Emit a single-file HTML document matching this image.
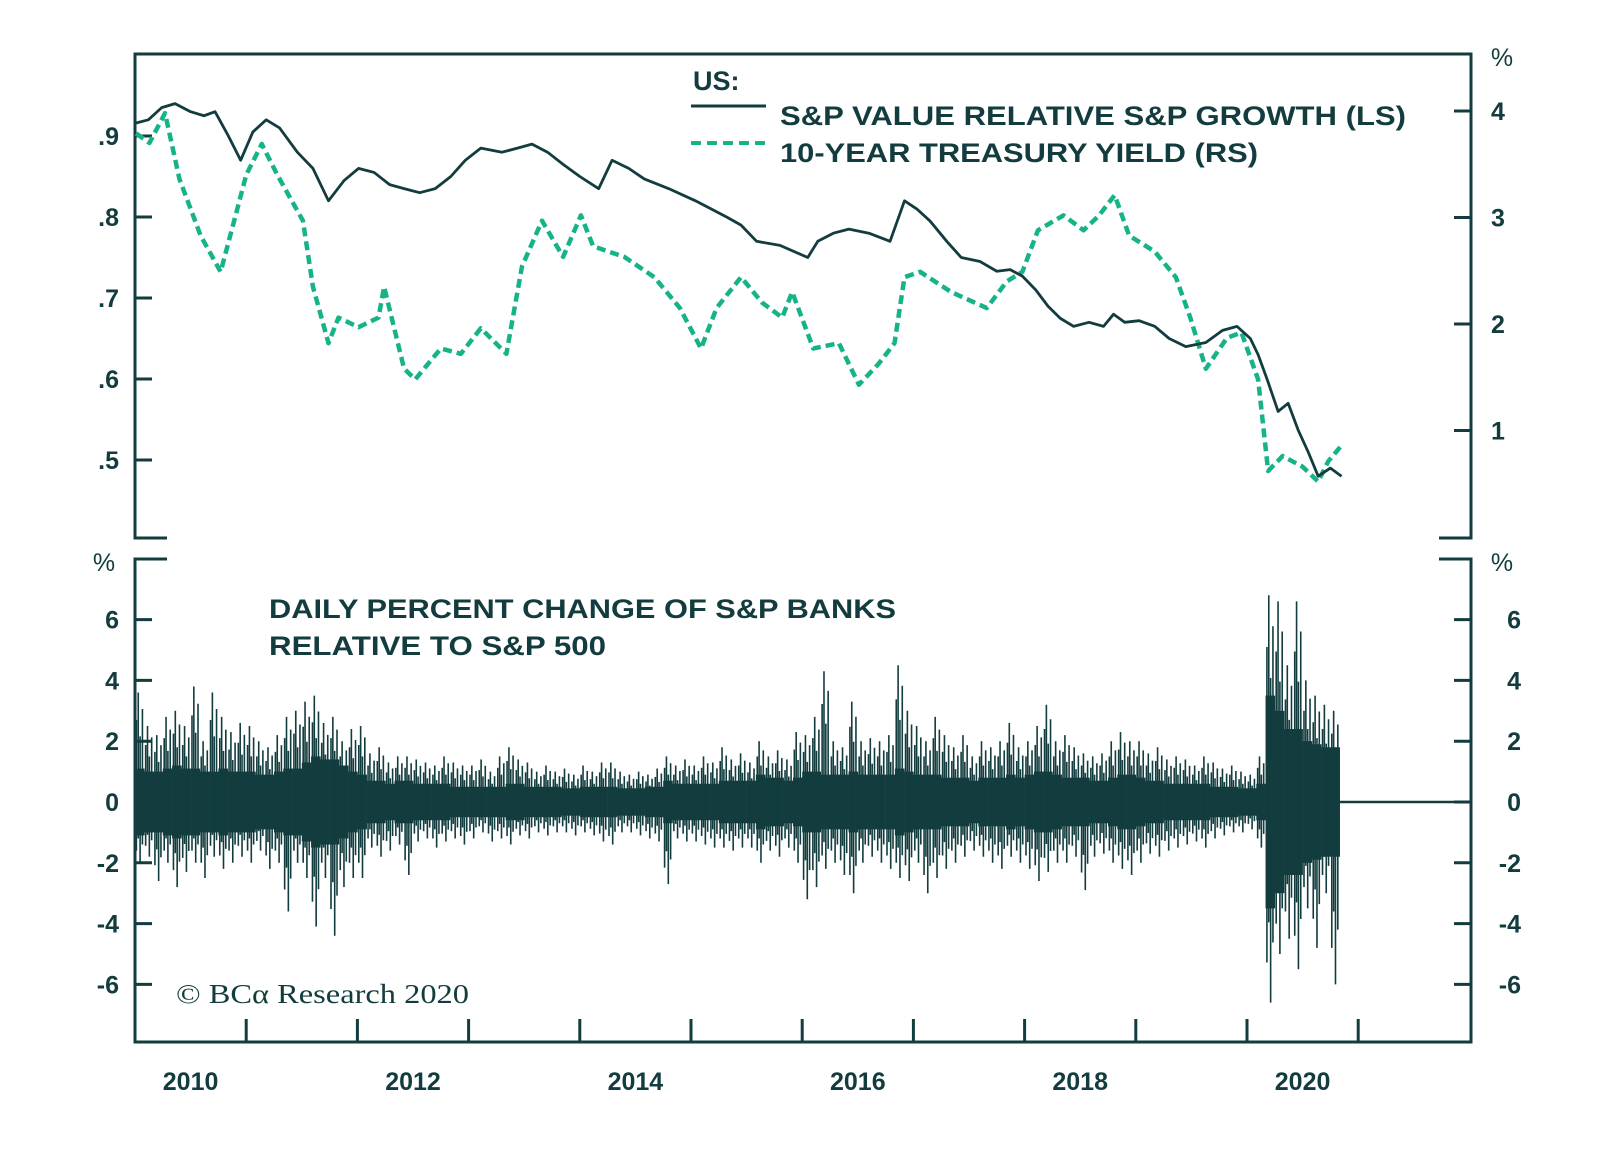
<!DOCTYPE html>
<html><head><meta charset="utf-8"><style>
html,body{margin:0;padding:0;background:#fff;}
svg{display:block;font-family:"Liberation Sans",Arial,sans-serif;}
.tk{font-size:25px;font-weight:bold;fill:#123c3e;}
</style></head><body>
<svg id="chart" width="1600" height="1160" viewBox="0 0 1600 1160" xmlns="http://www.w3.org/2000/svg">
<g id="axes"></g>
<g id="marks"></g>
<g id="labels"></g>
<text x="693" y="90" class="tk" style="font-size:27px">US:</text>
<line x1="691" y1="106" x2="766" y2="106" stroke="#123c3e" stroke-width="3"/>
<line x1="691" y1="143" x2="766" y2="143" stroke="#17b388" stroke-width="4" stroke-dasharray="10,6"/>
<text x="780" y="125" class="tk" style="font-size:27px" textLength="626" lengthAdjust="spacingAndGlyphs">S&amp;P VALUE RELATIVE S&amp;P GROWTH (LS)</text>
<text x="780" y="162" class="tk" style="font-size:27px" textLength="478" lengthAdjust="spacingAndGlyphs">10-YEAR TREASURY YIELD (RS)</text>
<text x="269" y="618" class="tk" style="font-size:27px" textLength="627" lengthAdjust="spacingAndGlyphs">DAILY PERCENT CHANGE OF S&amp;P BANKS</text>
<text x="269" y="655" class="tk" style="font-size:27px" textLength="337" lengthAdjust="spacingAndGlyphs">RELATIVE TO S&amp;P 500</text>
<text x="176" y="1003" style="font-family:'Liberation Serif',serif;font-size:27px;fill:#123c3e" textLength="293" lengthAdjust="spacingAndGlyphs">© BCα Research 2020</text>
</svg>
<script>
const valueDates=[2010.01,2010.12,2010.24,2010.36,2010.5,2010.62,2010.72,2010.84,2010.95,2011.06,2011.18,2011.3,2011.46,2011.6,2011.74,2011.88,2012.01,2012.15,2012.29,2012.42,2012.56,2012.7,2012.84,2012.97,2013.11,2013.30,2013.44,2013.57,2013.71,2013.85,2014.0,2014.17,2014.29,2014.44,2014.58,2014.8,2015.04,2015.18,2015.32,2015.45,2015.59,2015.8,2016.05,2016.14,2016.28,2016.42,2016.6,2016.79,2016.92,2017.03,2017.15,2017.3,2017.43,2017.6,2017.75,2017.87,2017.98,2018.1,2018.21,2018.32,2018.44,2018.58,2018.71,2018.8,2018.90,2019.03,2019.17,2019.3,2019.45,2019.63,2019.78,2019.91,2020.03,2020.10,2020.18,2020.28,2020.37,2020.46,2020.55,2020.64,2020.75,2020.85];
const valueRatio=[0.916,0.92,0.935,0.94,0.93,0.925,0.93,0.9,0.87,0.905,0.92,0.91,0.88,0.86,0.82,0.845,0.86,0.855,0.84,0.835,0.83,0.835,0.85,0.87,0.885,0.88,0.885,0.89,0.88,0.865,0.85,0.835,0.87,0.86,0.847,0.835,0.82,0.81,0.80,0.79,0.77,0.765,0.75,0.77,0.78,0.785,0.78,0.77,0.82,0.81,0.795,0.77,0.75,0.745,0.733,0.735,0.727,0.71,0.69,0.675,0.665,0.67,0.665,0.68,0.67,0.672,0.665,0.65,0.64,0.645,0.66,0.665,0.65,0.63,0.6,0.56,0.57,0.537,0.51,0.48,0.49,0.48];
const yieldDates=[2010.01,2010.13,2010.27,2010.40,2010.59,2010.77,2010.93,2011.00,2011.14,2011.28,2011.51,2011.60,2011.74,2011.83,2012.01,2012.19,2012.24,2012.42,2012.52,2012.75,2012.93,2013.11,2013.34,2013.48,2013.66,2013.85,2014.01,2014.12,2014.40,2014.67,2014.90,2015.09,2015.23,2015.45,2015.64,2015.82,2015.91,2016.10,2016.33,2016.51,2016.69,2016.83,2016.92,2017.06,2017.34,2017.66,2017.84,2017.98,2018.12,2018.35,2018.53,2018.67,2018.81,2018.94,2019.17,2019.36,2019.49,2019.63,2019.82,2019.95,2020.10,2020.19,2020.32,2020.50,2020.64,2020.73,2020.85];
const yieldPct=[3.79,3.7,3.98,3.36,2.83,2.49,3.12,3.4,3.69,3.4,2.97,2.35,1.82,2.06,1.97,2.06,2.35,1.58,1.48,1.77,1.72,1.96,1.72,2.54,2.97,2.63,3.02,2.73,2.63,2.44,2.15,1.77,2.15,2.44,2.2,2.06,2.3,1.77,1.82,1.43,1.63,1.82,2.44,2.49,2.3,2.15,2.4,2.49,2.88,3.02,2.88,3.02,3.21,2.83,2.68,2.44,2.06,1.58,1.87,1.92,1.48,0.62,0.76,0.66,0.52,0.71,0.86];
const dailyHigh=[3.6,2.5,2.2,2.8,3.0,2.5,3.8,2.0,3.6,2.8,2.3,2.6, 2.5,2.0,1.8,2.2,2.8,3.0,3.3,3.5,2.6,2.8,2.0,2.4, 2.5,1.6,1.8,1.3,1.5,1.5,1.4,1.3,1.2,1.5,1.3,1.2, 1.2,1.4,1.0,1.5,1.8,1.4,1.3,1.0,1.2,1.0,1.1,0.9, 1.2,1.0,1.3,1.3,1.0,0.9,1.0,0.9,1.1,1.5,1.2,1.4, 1.2,1.5,1.3,1.8,1.4,1.6,1.3,2.0,1.5,1.7,1.4,2.3, 2.2,2.8,4.3,2.0,1.8,3.3,2.0,2.1,2.0,2.2,4.5,3.0, 2.5,2.0,2.8,2.2,1.8,2.2,1.5,2.0,1.8,2.0,2.6,1.8, 2.0,2.5,3.2,2.0,2.2,1.8,1.6,1.5,1.6,2.0,2.3,2.0, 2.0,1.6,1.8,1.4,1.5,1.4,1.2,1.5,1.3,1.1,1.2,1.0, 0.9,1.5,6.8,6.6,4.5,6.6,4.0,3.5,3.2,3.0];
const dailyLow=[-2.0,-1.8,-2.6,-2.0,-2.8,-2.3,-2.0,-2.5,-1.8,-2.2,-2.0,-1.8, -2.0,-1.6,-2.2,-2.0,-3.6,-2.0,-2.5,-4.1,-2.5,-4.4,-2.8,-2.5, -2.5,-1.5,-1.8,-1.6,-1.4,-2.4,-1.3,-1.2,-1.5,-1.3,-1.2,-1.4, -1.2,-1.0,-1.3,-1.2,-1.4,-1.1,-1.2,-1.0,-1.1,-1.0,-1.0,-1.1, -1.0,-1.1,-1.3,-1.4,-1.0,-1.0,-1.1,-1.2,-1.3,-2.7,-1.2,-1.3, -1.3,-1.4,-1.5,-1.5,-1.6,-1.5,-1.5,-2.0,-1.6,-1.8,-1.5,-2.0, -3.2,-2.8,-2.2,-2.0,-2.4,-3.0,-2.0,-1.8,-2.0,-2.2,-2.5,-2.6, -2.0,-3.0,-2.5,-2.2,-2.0,-1.8,-1.6,-1.8,-2.0,-2.2,-1.8,-2.0, -2.2,-2.6,-2.3,-2.0,-2.0,-1.8,-2.9,-1.8,-1.7,-2.0,-2.2,-2.4, -2.0,-1.7,-1.8,-1.6,-1.5,-1.4,-1.3,-1.5,-1.2,-1.1,-1.0,-1.0, -0.9,-1.5,-6.6,-5.0,-4.5,-5.5,-3.5,-4.8,-3.0,-6.0];
const dailyCore=[1.1,1.0,1.0,1.1,1.2,1.1,1.1,1.0,1.0,1.1,1.0,1.0, 1.0,0.9,0.9,1.0,1.1,1.1,1.3,1.5,1.4,1.4,1.2,1.0, 0.9,0.7,0.7,0.6,0.7,0.7,0.6,0.6,0.6,0.6,0.5,0.5, 0.5,0.5,0.5,0.5,0.6,0.6,0.5,0.5,0.5,0.5,0.45,0.45, 0.5,0.5,0.5,0.5,0.45,0.45,0.45,0.5,0.5,0.7,0.6,0.6, 0.6,0.6,0.6,0.7,0.7,0.7,0.7,0.9,0.8,0.8,0.7,0.8, 1.0,1.0,0.9,0.9,0.9,1.0,0.9,0.9,0.9,0.9,1.1,1.0, 0.9,0.9,0.9,0.8,0.8,0.8,0.7,0.8,0.8,0.8,0.9,0.8, 0.9,1.0,1.0,0.9,0.8,0.8,0.8,0.7,0.7,0.8,0.9,0.9, 0.8,0.7,0.7,0.6,0.6,0.6,0.6,0.6,0.5,0.5,0.5,0.45, 0.45,0.6,3.5,3.0,2.4,2.4,2.0,1.9,1.8,1.8];
const leftTicks=[0.9,0.8,0.7,0.6,0.5];
const leftTickLabels=[".9",".8",".7",".6",".5"];
const rightTicks=[4,3,2,1];
const bottomTicks=[6,4,2,0,-2,-4,-6];
const yearTicks=[2010,2011,2012,2013,2014,2015,2016,2017,2018,2019,2020,2021];
const yearLabels=[2010,2012,2014,2016,2018,2020];

const C='#123c3e',G='#17b388',NS='http://www.w3.org/2000/svg';
const L=135,R=1471,T=54,B=1042,TB=538,BT=559;
const x=yr=>L+(yr-2010)*111.2;
const yL=v=>136+(0.9-v)*810;
const yR=v=>111+(4-v)*106.5;
const yB=v=>802-v*30.4;
function el(tag,attrs,parent){const e=document.createElementNS(NS,tag);for(const k in attrs)e.setAttribute(k,attrs[k]);parent.appendChild(e);return e;}
const axes=document.getElementById('axes'),marks=document.getElementById('marks'),labels=document.getElementById('labels');
let p=el('path',{d:`M${L+32},${TB} H${L} V${T} H${R} V${TB} H${R-32}`,fill:'none',stroke:C,'stroke-width':3},axes);

p=el('path',{d:`M${L+32},${BT} H${L} V${B} H${R} V${BT} H${R-32}`,fill:'none',stroke:C,'stroke-width':3},axes);

leftTicks.forEach((v,i)=>{const t=el('line',{x1:L,x2:L+17,y1:yL(v),y2:yL(v),stroke:C,'stroke-width':3},axes);

const tx=el('text',{x:L-16,y:yL(v)+9,'text-anchor':'end',class:'tk'},labels);tx.textContent=leftTickLabels[i];
});
rightTicks.forEach(v=>{const t=el('line',{x1:R-17,x2:R,y1:yR(v),y2:yR(v),stroke:C,'stroke-width':3},axes);

const tx=el('text',{x:R+20,y:yR(v)+9,class:'tk'},labels);tx.textContent=v;
});
bottomTicks.forEach(v=>{[[L,L+17],[R-17,R]].forEach(s=>{const t=el('line',{x1:s[0],x2:s[1],y1:yB(v),y2:yB(v),stroke:C,'stroke-width':3},axes);
});
const a=el('text',{x:L-16,y:yB(v)+9,'text-anchor':'end',class:'tk'},labels);a.textContent=v;

const b=el('text',{x:R+50,y:yB(v)+9,'text-anchor':'end',class:'tk'},labels);b.textContent=v;
});
[[1502,66],[104,571],[1502,571]].forEach(q=>{const t=el('text',{x:q[0],y:q[1],'text-anchor':'middle',class:'tk',style:'font-weight:normal'},labels);t.textContent='%';
});
yearTicks.forEach(yr=>{if(yr===2010)return;const t=el('line',{x1:x(yr),x2:x(yr),y1:B,y2:B-23,stroke:C,'stroke-width':3},axes);
});
yearLabels.forEach(yr=>{const t=el('text',{x:x(yr+0.5),y:1090,'text-anchor':'middle',class:'tk'},labels);t.textContent=yr;
});
const mw=111.2/12;
dailyHigh.forEach((h,i)=>{const x0=x(2010+i/12),c=dailyCore[i],lo=dailyLow[i];
const r=el('rect',{x:x0,y:yB(c),width:mw+0.3,height:yB(-c)-yB(c),fill:C},marks);

[[0.15,h*0.75,lo*0.8],[0.35,h,lo*0.6],[0.55,h*0.6,lo],[0.8,h*0.85,lo*0.7]].forEach(s=>{const ln=el('line',{x1:x0+mw*s[0],x2:x0+mw*s[0],y1:yB(s[1]),y2:yB(s[2]),stroke:C,'stroke-width':1.6},marks);
});});
const zl=el('line',{x1:x(2010+dailyHigh.length/12),x2:R,y1:yB(0),y2:yB(0),stroke:C,'stroke-width':2.5},marks);

const gp=el('polyline',{points:yieldDates.map((d,i)=>x(d)+','+yR(yieldPct[i])).join(' '),fill:'none',stroke:G,'stroke-width':4.5,'stroke-dasharray':'9,5','stroke-linejoin':'round'},marks);

const bp=el('polyline',{points:valueDates.map((d,i)=>x(d)+','+yL(valueRatio[i])).join(' '),fill:'none',stroke:C,'stroke-width':2.8,'stroke-linejoin':'round'},marks);

</script>
</body></html>
